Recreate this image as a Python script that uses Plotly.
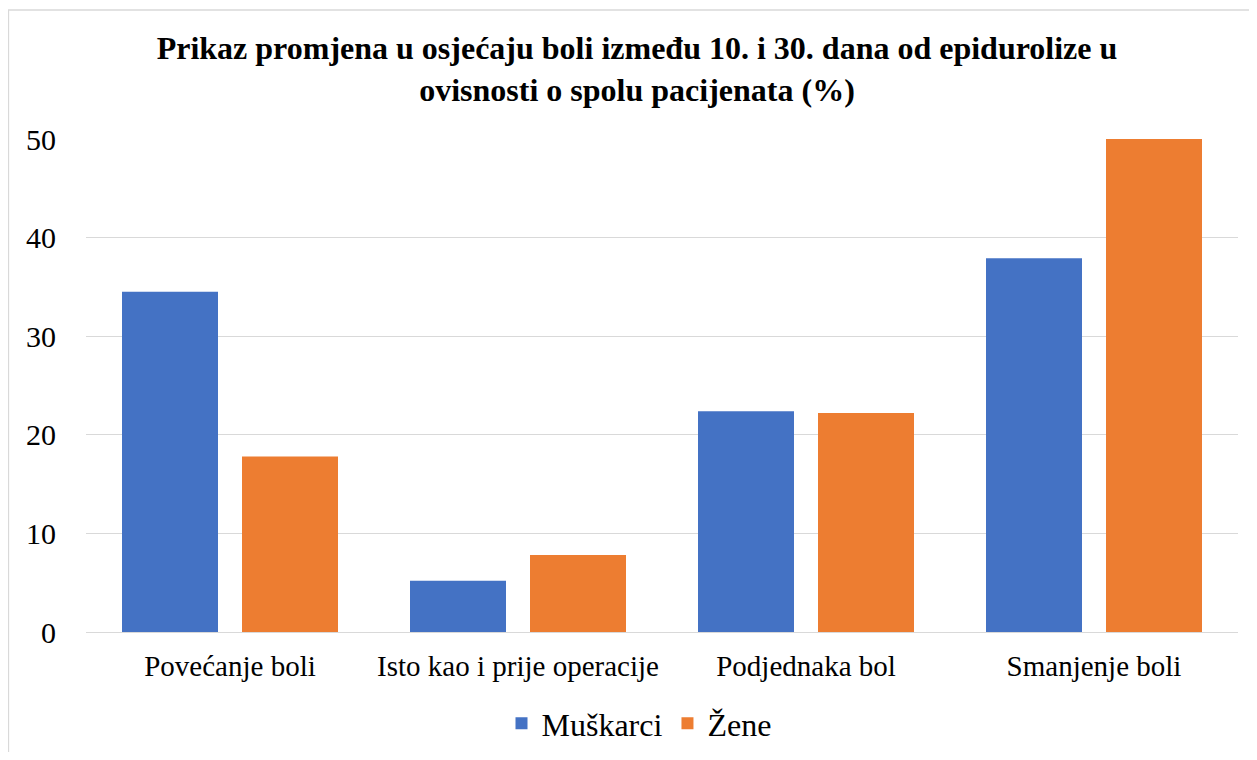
import plotly.graph_objects as go

categories = ["Povećanje boli", "Isto kao i prije operacije", "Podjednaka bol", "Smanjenje boli"]
muskarci = [34.5, 5.2, 22.4, 37.9]
zene = [17.8, 7.8, 22.2, 50.0]
y_ticks = [0, 10, 20, 30, 40, 50]

# page body has an 8px margin on every side, so the figure is sized to fit inside the window
W, H = 1241, 744
L, R, T, B = 78, 11, 131, 120

fig = go.Figure()
fig.add_trace(go.Bar(name="Muškarci", x=categories, y=muskarci, marker=dict(color="#4472C4", line=dict(width=0))))
fig.add_trace(go.Bar(name="Žene", x=categories, y=zene, marker=dict(color="#ED7D31", line=dict(width=0))))

pw = W - L - R
ph = H - T - B
fig.add_shape(type="rect", xref="paper", yref="paper",
              x0=(0.5 - L) / pw, x1=(W + 20 - L) / pw,
              y0=-(H + 20 - (H - B)) / ph, y1=((H - B) - 2) / ph,
              line=dict(color="#d9d9d9", width=1.3), fillcolor="rgba(0,0,0,0)", layer="below")

fig.update_layout(
    width=W, height=H,
    margin=dict(l=L, r=R, t=T, b=B, autoexpand=False),
    paper_bgcolor="white", plot_bgcolor="white",
    font=dict(family="Liberation Serif, Times New Roman, serif", color="black"),
    title=dict(text="Prikaz promjena u osjećaju boli između 10. i 30. dana od epidurolize u<br>ovisnosti o spolu pacijenata (%)",
               font=dict(size=32, family="Liberation Serif, Times New Roman, serif", color="black", weight="bold"),
               x=(637 - 8 - L) / pw, xanchor="center", xref="paper", y=1 - 51 / H, yanchor="top", yref="container"),
    barmode="group", bargap=0.1667, bargroupgap=0.2,
    showlegend=True,
    legend=dict(orientation="h", x=(639 - 8 - L) / pw, xanchor="center", xref="paper", y=-64 / ph, yanchor="top",
                font=dict(size=32), itemclick=False, traceorder="normal"),
    xaxis=dict(showgrid=False, showline=False, ticks="", tickfont=dict(size=29), zeroline=False,
               ticklabelstandoff=14),
    yaxis=dict(range=[0, 50], tickvals=y_ticks, showgrid=True, gridcolor="#d9d9d9", gridwidth=1.3,
               zeroline=True, zerolinecolor="#d9d9d9", zerolinewidth=1.3, showline=False, ticks="",
               tickfont=dict(size=30), ticklabelstandoff=29),
)

fig.write_html("out.html")
